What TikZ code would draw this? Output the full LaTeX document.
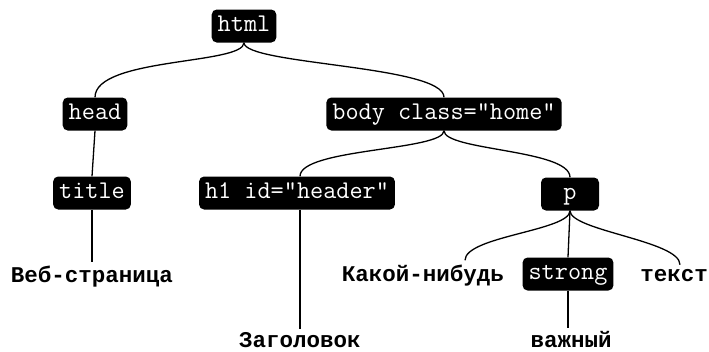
\documentclass[tikz,border=0pt]{standalone}
\usepackage{fontspec}
\newfontfamily\monofont{Liberation Mono}
\newfontfamily\tagfont{Latin Modern Mono}
\begin{document}
\begin{tikzpicture}[x=1pt,y=-1pt,
  tag/.style={fill=black, text=white, rounded corners=5pt,
    font=\tagfont\fontsize{25.5}{28}\selectfont,
    minimum height=33pt, text height=15pt, text depth=4pt,
    inner xsep=6pt, inner ysep=0pt},
  leaf/.style={font=\monofont\bfseries\fontsize{22.5}{26}\selectfont,
    inner sep=0pt, anchor=base},
  edge/.style={line width=1.3pt}]
\useasboundingbox (0,0) rectangle (709,351);

\node[tag] (html) at (244,26) {html};
\node[tag] (head) at (95,114) {head};
\node[tag] (body) at (444,114) {body class="home"};
\node[tag] (title) at (92,193) {title};
\node[tag] (h1) at (297,193) {h1 id="header"};
\node[tag, minimum width=58pt] (p) at (570,194) {p};
\node[tag] (strong) at (568,274) {strong};
\node[leaf] (veb) at (92,282) {Веб-страница};
\node[leaf] (kak) at (423,281) {Какой-нибудь};
\node[leaf] (tekst) at (674,281) {текст};
\node[leaf] (zag) at (300,347) {Заголовок};
\node[leaf] (vazh) at (571,347) {важный};

\draw[edge] (html.south) .. controls ([yshift=-22pt]html.south) and ([yshift=40pt]head.north) .. (head.north);
\draw[edge] (html.south) .. controls ([yshift=-22pt]html.south) and ([yshift=32pt]body.north) .. (body.north);
\draw[edge] (head.south) -- (title.north);
\draw[edge] (title.south) -- ([yshift=3pt]title.south |- veb.north);
\draw[edge] (body.south) .. controls ([yshift=-20pt]body.south) and ([xshift=3pt,yshift=28pt]h1.north) .. ([xshift=3pt]h1.north);
\draw[edge] (body.south) .. controls ([yshift=-20pt]body.south) and ([yshift=28pt]p.north) .. (p.north);
\draw[edge] (zag.north |- h1.south) -- ([yshift=3pt]zag.north);
\draw[edge] (p.south) .. controls ([yshift=-20pt]p.south) and ([xshift=42pt,yshift=28pt]kak.north) .. ([xshift=42pt,yshift=4pt]kak.north);
\draw[edge] (p.south) -- (strong.north);
\draw[edge] (p.south) .. controls ([yshift=-20pt]p.south) and ([xshift=6pt,yshift=28pt]tekst.north) .. ([xshift=6pt,yshift=4pt]tekst.north);
\draw[edge] (strong.south) -- ([yshift=3pt]strong.south |- vazh.north);
\end{tikzpicture}
\end{document}
